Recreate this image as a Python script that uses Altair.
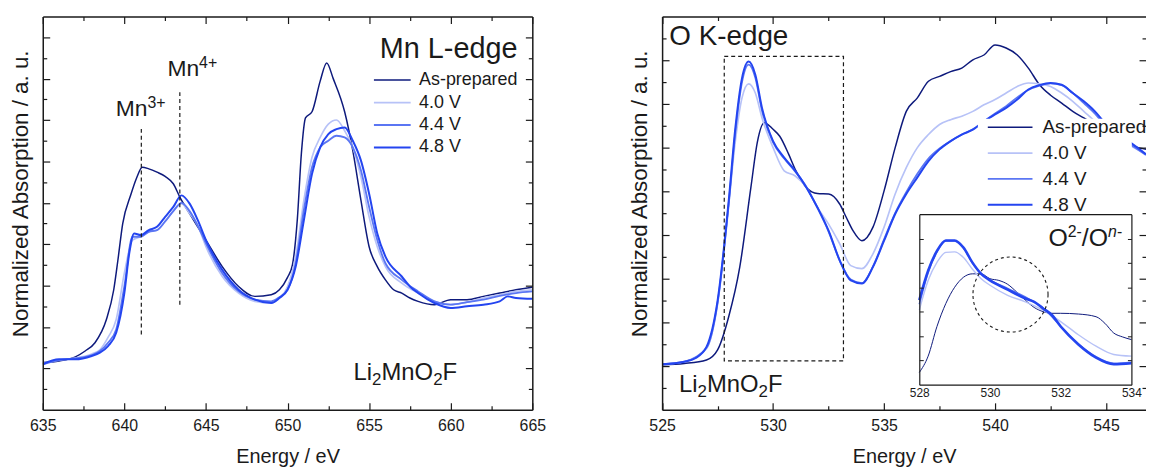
import altair as alt
import pandas as pd

FONT = "Liberation Sans"
INK = "#1a1a1a"
SERIES = ["As-prepared", "4.0 V", "4.4 V", "4.8 V"]
COLORS = ["#0e1a7c", "#b7c2f7", "#5b76f3", "#2445f0"]
WIDTHS = [1.5, 2.0, 2.0, 4.0]
INSET_WIDTHS = [1.0, 1.4, 1.6, 2.6]

# ---------------- Mn L-edge (energy eV, absorption a.u.) ----------------
MN_ASP = [(635.0, 1.14), (636.0, 1.18), (637.0, 1.28), (637.6, 1.42), (638.2, 1.62), (638.9, 2.18),
          (639.35, 2.9), (639.6, 3.6), (639.9, 4.5), (640.4, 5.2), (640.75, 5.6), (641.1, 5.86),
          (641.5, 5.82), (642.0, 5.74), (642.5, 5.64), (643.0, 5.46), (643.4, 5.14), (644.0, 4.74),
          (645.0, 4.1), (646.0, 3.46), (647.0, 2.98), (648.0, 2.74), (649.0, 2.78), (649.5, 2.9),
          (650.0, 3.2), (650.3, 3.5), (650.6, 4.6), (650.85, 6.2), (651.1, 7.05), (651.5, 7.2),
          (652.0, 7.94), (652.4, 8.38), (652.8, 8.0), (653.5, 7.2), (654.0, 6.26), (654.5, 5.06),
          (655.0, 3.94), (655.5, 3.46), (656.0, 3.14), (656.5, 2.9), (657.0, 2.82), (657.5, 2.7),
          (658.0, 2.62), (659.0, 2.54), (660.0, 2.66), (661.0, 2.66), (662.0, 2.74), (663.0, 2.82),
          (664.0, 2.9), (665.0, 2.96)]
MN_40 = [(635.0, 1.12), (636.0, 1.2), (637.0, 1.25), (638.0, 1.35), (638.5, 1.45), (639.0, 1.75),
         (639.5, 2.18), (640.0, 3.3), (640.5, 4.1), (641.0, 4.18), (641.5, 4.3), (642.0, 4.34),
         (642.5, 4.55), (643.0, 4.8), (643.5, 4.98), (644.0, 4.74), (644.5, 4.45), (645.0, 3.94),
         (646.0, 3.22), (647.0, 2.82), (648.0, 2.62), (649.0, 2.58), (649.5, 2.7), (650.0, 2.98),
         (650.5, 3.7), (651.0, 5.06), (651.5, 6.1), (652.0, 6.58), (652.5, 6.9), (653.0, 7.0),
         (653.5, 6.74), (654.0, 6.34), (654.5, 5.62), (655.0, 4.66), (655.5, 3.94), (656.0, 3.46),
         (657.0, 3.06), (658.0, 2.82), (659.0, 2.62), (660.0, 2.54), (661.0, 2.6), (662.0, 2.7),
         (663.0, 2.78), (664.0, 2.86), (665.0, 2.9)]
MN_44 = [(635.0, 1.1), (636.0, 1.2), (637.0, 1.24), (638.0, 1.32), (638.5, 1.42), (639.0, 1.62),
         (639.5, 1.94), (640.0, 2.98), (640.5, 4.18), (641.0, 4.18), (641.5, 4.3), (642.0, 4.34),
         (642.5, 4.55), (643.0, 4.8), (643.5, 5.0), (644.0, 4.8), (644.5, 4.45), (645.0, 4.02),
         (646.0, 3.3), (647.0, 2.86), (648.0, 2.66), (649.0, 2.62), (649.5, 2.72), (650.0, 2.9),
         (650.5, 3.54), (651.0, 4.82), (651.5, 5.86), (652.0, 6.34), (652.5, 6.5), (653.0, 6.62),
         (653.5, 6.58), (654.0, 6.34), (654.5, 5.78), (655.0, 4.9), (655.5, 4.1), (656.0, 3.54),
         (657.0, 3.14), (658.0, 2.86), (659.0, 2.62), (660.0, 2.54), (661.0, 2.6), (662.0, 2.66),
         (663.0, 2.75), (664.0, 2.82), (665.0, 2.86)]
MN_48 = [(635.0, 1.1), (636.0, 1.22), (637.0, 1.22), (638.0, 1.3), (638.5, 1.38), (639.0, 1.54),
         (639.5, 1.86), (640.0, 2.82), (640.3, 3.78), (640.6, 4.26), (641.0, 4.22), (641.5, 4.34),
         (642.0, 4.42), (642.5, 4.66), (643.0, 4.9), (643.5, 5.18), (644.0, 4.98), (644.5, 4.58),
         (645.0, 4.1), (646.0, 3.38), (647.0, 2.9), (648.0, 2.66), (649.0, 2.58), (649.5, 2.7),
         (650.0, 2.9), (650.5, 3.46), (651.0, 4.58), (651.5, 5.7), (652.0, 6.34), (652.5, 6.66),
         (653.0, 6.78), (653.5, 6.82), (654.0, 6.5), (654.5, 6.02), (655.0, 5.22), (655.5, 4.26),
         (656.0, 3.7), (657.0, 3.22), (657.5, 2.98), (658.0, 2.82), (659.0, 2.58), (660.0, 2.46),
         (661.0, 2.5), (662.0, 2.54), (663.0, 2.62), (663.5, 2.74), (664.0, 2.7), (665.0, 2.68)]

# ---------------- O K-edge ----------------
O_ASP = [(525.0, 1.03), (526.0, 1.06), (527.0, 1.14), (527.5, 1.37), (528.0, 2.13), (528.5, 3.27),
         (529.0, 5.09), (529.3, 6.15), (529.6, 6.57), (530.0, 6.42), (530.3, 6.26), (530.7, 5.85),
         (531.0, 5.5), (531.5, 5.09), (532.0, 4.95), (532.5, 4.94), (533.0, 4.71), (533.3, 4.4),
         (533.6, 4.1), (534.0, 3.87), (534.5, 4.18), (535.0, 5.01), (535.5, 6.0), (536.0, 6.83),
         (536.5, 7.14), (537.0, 7.52), (537.5, 7.63), (538.0, 7.74), (538.5, 7.82), (539.0, 8.01),
         (539.5, 8.12), (540.0, 8.35), (540.5, 8.28), (541.0, 8.12), (541.5, 7.82), (542.0, 7.44),
         (542.5, 7.2), (543.0, 7.02), (543.5, 6.83), (544.0, 6.68), (544.5, 6.53), (545.0, 6.34),
         (546.0, 6.07), (546.8, 5.96)]
O_40 = [(525.0, 1.04), (526.0, 1.1), (527.0, 1.4), (527.5, 2.43), (528.0, 4.7), (528.3, 6.15),
        (528.6, 7.14), (528.9, 7.46), (529.2, 7.25), (529.5, 6.68), (530.0, 6.0), (530.5, 5.47),
        (531.0, 5.35), (531.5, 5.09), (532.0, 4.63), (532.5, 4.25), (533.0, 3.8), (533.5, 3.3),
        (534.0, 3.23), (534.5, 3.57), (535.0, 4.18), (535.5, 4.94), (536.0, 5.54), (536.5, 6.0),
        (537.0, 6.3), (537.5, 6.53), (538.0, 6.64), (538.5, 6.72), (539.0, 6.83), (539.5, 6.98),
        (540.0, 7.1), (540.5, 7.25), (541.0, 7.4), (541.5, 7.48), (542.0, 7.46), (542.5, 7.4),
        (543.0, 7.25), (543.5, 7.06), (544.0, 6.83), (544.5, 6.6), (545.0, 6.34), (546.0, 6.07),
        (546.8, 5.85)]
O_44 = [(525.0, 1.04), (526.0, 1.1), (527.0, 1.42), (527.5, 2.45), (528.0, 4.7), (528.3, 6.35),
        (528.6, 7.5), (528.9, 7.9), (529.2, 7.6), (529.5, 6.85), (530.0, 6.12), (530.5, 5.75),
        (531.0, 5.45), (531.5, 5.1), (532.0, 4.62), (532.5, 4.08), (533.0, 3.42), (533.5, 2.98),
        (534.0, 2.9), (534.5, 3.28), (535.0, 3.9), (535.5, 4.5), (536.0, 4.98), (536.5, 5.4),
        (537.0, 5.75), (537.5, 5.98), (538.0, 6.15), (538.5, 6.3), (539.0, 6.42), (539.5, 6.6),
        (540.0, 6.78), (540.5, 6.95), (541.0, 7.15), (541.5, 7.32), (542.0, 7.42), (542.5, 7.47),
        (543.0, 7.43), (543.5, 7.25), (544.0, 7.02), (544.5, 6.78), (545.0, 6.48), (545.5, 6.25),
        (546.0, 6.1), (546.8, 5.83)]
O_48 = [(525.0, 1.04), (526.0, 1.1), (526.5, 1.18), (527.0, 1.44), (527.5, 2.5), (528.0, 4.78),
        (528.3, 6.45), (528.6, 7.59), (528.9, 7.97), (529.2, 7.67), (529.5, 6.91), (530.0, 6.15),
        (530.5, 5.77), (531.0, 5.47), (531.5, 5.09), (532.0, 4.63), (532.5, 4.1), (533.0, 3.42),
        (533.5, 2.96), (534.0, 2.89), (534.5, 3.27), (535.0, 3.87), (535.5, 4.48), (536.0, 4.94),
        (536.5, 5.32), (537.0, 5.69), (537.5, 5.96), (538.0, 6.15), (538.5, 6.3), (539.0, 6.41),
        (539.5, 6.6), (540.0, 6.76), (540.5, 6.91), (541.0, 7.1), (541.5, 7.33), (542.0, 7.43),
        (542.5, 7.48), (543.0, 7.44), (543.5, 7.25), (544.0, 7.06), (544.5, 6.83), (545.0, 6.53),
        (545.5, 6.3), (546.0, 6.15), (546.8, 5.85)]

# ---------------- inset (O2-/On-) ----------------
IN_ASP = [(528.0, 0.5), (528.25, 1.17), (528.5, 2.39), (528.75, 3.33), (529.0, 4.0), (529.25, 4.41),
          (529.5, 4.55), (529.75, 4.55), (530.0, 4.35), (530.25, 4.28), (530.5, 4.12), (530.75, 3.81),
          (531.0, 3.47), (531.25, 3.17), (531.5, 3.0), (531.75, 2.93), (532.0, 2.93), (532.5, 2.9),
          (533.0, 2.79), (533.25, 2.52), (533.5, 2.12), (533.75, 1.96), (534.0, 1.85)]
IN_40 = [(528.0, 3.06), (528.25, 4.28), (528.5, 5.02), (528.75, 5.43), (529.0, 5.45), (529.25, 5.22),
         (529.5, 4.75), (529.75, 4.35), (530.0, 4.08), (530.5, 3.67), (531.0, 3.4), (531.5, 3.06),
         (532.0, 2.59), (532.5, 2.05), (533.0, 1.58), (533.5, 1.24), (534.0, 1.17)]
IN_44 = [(528.0, 3.3), (528.25, 4.6), (528.5, 5.45), (528.75, 5.9), (529.0, 5.9), (529.25, 5.6),
         (529.5, 5.0), (529.75, 4.55), (530.0, 4.3), (530.5, 3.95), (531.0, 3.6), (531.5, 3.15),
         (532.0, 2.4), (532.5, 1.68), (533.0, 1.15), (533.5, 0.88), (534.0, 0.92)]
IN_48 = [(528.0, 3.47), (528.25, 4.68), (528.5, 5.49), (528.75, 5.92), (529.0, 5.92), (529.25, 5.63),
         (529.5, 5.02), (529.75, 4.55), (530.0, 4.28), (530.5, 3.9), (531.0, 3.54), (531.25, 3.4),
         (531.5, 3.13), (531.75, 2.86), (532.0, 2.39), (532.5, 1.65), (533.0, 1.11), (533.5, 0.84),
         (534.0, 0.88)]

# axis ticks
MN_X_MAJOR = [635, 640, 645, 650, 655, 660, 665]
MN_X_MINOR = [637.5, 642.5, 647.5, 652.5, 657.5, 662.5]
MN_Y_MAJOR = [1, 2, 3, 4, 5, 6, 7, 8, 9]
MN_Y_MINOR = [0.5, 1.5, 2.5, 3.5, 4.5, 5.5, 6.5, 7.5, 8.5]
O_X_MAJOR = [525, 530, 535, 540, 545]
O_X_MINOR = [527.5, 532.5, 537.5, 542.5]
O_Y_MAJOR = [1, 2, 3, 4, 5, 6, 7, 8]
O_Y_MINOR = [0.5, 1.5, 2.5, 3.5, 4.5, 5.5, 6.5, 7.5, 8.5]
IN_X_LABELS = [528, 530, 532, 534]
IN_Y_TICKS = [1, 2, 3, 4, 5, 6]

# annotations (data coordinates)
MN_MARKERS = [(641.04, 1.82, 6.82), (643.4, 2.54, 7.74)]
O_BOX = [(527.8, 533.17, 1.12, 8.09)]
IN_CIRCLE = [(530.58, 3.7)]


def to_df(pairs_by_series):
    rows = []
    for name, pairs in pairs_by_series:
        for e, v in pairs:
            rows.append({"series": name, "E": e, "v": v})
    return pd.DataFrame(rows)


mn_df = to_df(zip(SERIES, [MN_ASP, MN_40, MN_44, MN_48]))
o_df = to_df(zip(SERIES, [O_ASP, O_40, O_44, O_48]))

# one drawing area holding both panels and the inset (pixel ranges per panel)
W = 1111
H = 396
L0, L1 = 0, 493          # left panel x-range
R0, R1 = 623.7, 1111     # right panel x-range
IN_L, IN_R, IN_T, IN_B = R0 + 259, R0 + 472.6, 199, 370.7
YTITLE_CENTER = 178

mn_xs = alt.Scale(domain=[635, 665], range=[L0, L1], zero=False, nice=False)
mn_ys = alt.Scale(domain=[0, 9.5], range=[H, 0], zero=False, nice=False)
o_xs = alt.Scale(domain=[525, 546.8], range=[R0, R1], zero=False, nice=False)
o_ys = alt.Scale(domain=[0, 9], range=[H, 0], zero=False, nice=False)
in_xs = alt.Scale(domain=[528, 534], range=[IN_L, IN_R], zero=False, nice=False)
in_ys = alt.Scale(domain=[0, 7], range=[IN_B, IN_T], zero=False, nice=False)


def tick_axis(orient, offset, values, size, width=1.2):
    return alt.Axis(orient=orient, offset=offset, values=values, tickSize=size, ticks=True,
                    domain=False, labels=False, title=None, grid=False, zindex=1,
                    tickColor=INK, tickWidth=width)


def domain_axis(orient, offset, width=1.5):
    return alt.Axis(orient=orient, offset=offset, ticks=False, labels=False, title=None,
                    domain=True, domainColor=INK, domainWidth=width, grid=False, zindex=1)


def frame_layers(df, xs, ys, x0, x1, xmaj, xmin, ymaj, ymin, right_domain, ytitle_pad):
    base = alt.Chart(df).mark_point(opacity=0)

    def X(axis):
        return base.encode(x=alt.X("E:Q", scale=xs, axis=axis))

    def Y(axis):
        return base.encode(y=alt.Y("v:Q", scale=ys, axis=axis))

    layers = [
        X(alt.Axis(orient="bottom", offset=0, values=xmaj, format="d", ticks=False, domain=True,
                   domainColor=INK, domainWidth=1.5, grid=False, zindex=1, labelFlush=False,
                   labelFont=FONT, labelFontSize=16, labelColor=INK, labelPadding=8,
                   title="Energy / eV", titleFont=FONT, titleFontSize=20,
                   titleFontWeight="normal", titleColor=INK, titlePadding=13)),
        X(domain_axis("bottom", -H)),
        Y(alt.Axis(orient="left", offset=-x0, ticks=False, labels=False, domain=True,
                   domainColor=INK, domainWidth=1.5, grid=False, zindex=1,
                   title="Normalized Absorption / a. u.", titleFont=FONT, titleFontSize=22.5,
                   titleFontWeight="normal", titleColor=INK, titlePadding=ytitle_pad,
                   titleY=YTITLE_CENTER)),
    ]
    if right_domain:
        layers.append(Y(domain_axis("left", -x1)))
    for vals, size in ((xmaj, 7), (xmin, 4)):
        layers.append(X(tick_axis("top", -H, vals, size)))
        layers.append(X(tick_axis("bottom", -H, vals, size)))
    for vals, size in ((ymaj, 7), (ymin, 4)):
        layers.append(Y(tick_axis("right", x0 - W, vals, size)))
        layers.append(Y(tick_axis("left", -x1, vals, size)))
    return layers


# Arial / Liberation Sans advance widths (em) for composing sub/superscript labels
CHAR_W = {"L": 0.556, "i": 0.222, "M": 0.833, "n": 0.556, "O": 0.778, "F": 0.611,
          "2": 0.556, "3": 0.556, "4": 0.556, "+": 0.584, "-": 0.333, "/": 0.278,
          "K": 0.667, "e": 0.556, "d": 0.556, "g": 0.556, " ": 0.278}


def text_layer(txt, x, y, size, style="normal"):
    return alt.Chart(alt.Data(values=[{}])).mark_text(
        font=FONT, fontSize=size, color=INK, align="left", baseline="alphabetic", fontStyle=style
    ).encode(x=alt.value(x), y=alt.value(y), text=alt.value(txt))


def rich_text(pieces, x, y, anchor="start"):
    """pieces: (text, size, dy, style) ; returns text layers laid out left to right."""
    total = sum(sum(CHAR_W.get(c, 0.556) for c in t) * s for t, s, _, _ in pieces)
    cur = x - total if anchor == "end" else x
    out = []
    for t, s, dy, st in pieces:
        out.append(text_layer(t, cur, y + dy, s, st))
        cur += sum(CHAR_W.get(c, 0.556) for c in t) * s
    return out


def formula(x, y):
    return rich_text([("Li", 24, 0, "normal"), ("2", 17, 5, "normal"), ("MnO", 24, 0, "normal"),
                      ("2", 17, 5, "normal"), ("F", 24, 0, "normal")], x, y)


# ---------------- left panel ----------------
mn_legend = alt.Legend(orient="none", legendX=L0 + 330, legendY=19, direction="vertical",
                       title="Mn L-edge", titleFont=FONT, titleFontSize=29, titleFontWeight="normal",
                       titleColor=INK, titlePadding=7, titleLimit=400, titleAnchor="end",
                       symbolType="M-1,0H5.727", symbolSize=121,
                       labelFont=FONT, labelFontSize=18, labelColor=INK, labelOffset=31,
                       labelLimit=300, rowPadding=4.6, padding=0)

mn_lines = alt.Chart(mn_df).mark_line(interpolate="monotone", clip=True).encode(
    x=alt.X("E:Q", scale=mn_xs, axis=None),
    y=alt.Y("v:Q", scale=mn_ys, axis=None),
    color=alt.Color("series:N", scale=alt.Scale(domain=SERIES, range=COLORS), legend=mn_legend),
    strokeWidth=alt.StrokeWidth("series:N", scale=alt.Scale(domain=SERIES, range=WIDTHS),
                                legend=mn_legend),
)

mk_df = pd.DataFrame([{"E": e, "v1": a, "v2": b} for e, a, b in MN_MARKERS])
mn_markers = alt.Chart(mk_df).mark_rule(color=INK, strokeWidth=1.2, strokeDash=[4, 3]).encode(
    x=alt.X("E:Q", scale=mn_xs, axis=None),
    y=alt.Y("v1:Q", scale=mn_ys, axis=None),
    y2="v2:Q",
)

left_layers = [
    mn_lines, mn_markers,
    *frame_layers(mn_df, mn_xs, mn_ys, L0, L1, MN_X_MAJOR, MN_X_MINOR, MN_Y_MAJOR, MN_Y_MINOR,
                  True, 10.5),
    *rich_text([("Mn", 23, 0, "normal"), ("3+", 16, -8, "normal")], L0 + 73.5, 100),
    *rich_text([("Mn", 23, 0, "normal"), ("4+", 16, -8, "normal")], L0 + 125.5, 60),
    *formula(L0 + 313, 366),
]

# ---------------- right panel ----------------
o_legend = alt.Legend(orient="none", legendX=R0 + 319, legendY=97, direction="vertical",
                      title=None, symbolType="M-1,0H7.18", symbolSize=121,
                      padding=5, labelFont=FONT, labelFontSize=19, labelColor=INK, labelOffset=40,
                      labelLimit=300, rowPadding=6)

o_lines = alt.Chart(o_df).mark_line(interpolate="monotone", clip=True).encode(
    x=alt.X("E:Q", scale=o_xs, axis=None),
    y=alt.Y("v:Q", scale=o_ys, axis=None),
    color=alt.Color("series:N", scale=alt.Scale(domain=SERIES, range=COLORS), legend=o_legend),
    strokeWidth=alt.StrokeWidth("series:N", scale=alt.Scale(domain=SERIES, range=WIDTHS),
                                legend=o_legend),
)

# white panel behind the legend entries
legend_bg = alt.Chart(alt.Data(values=[{}])).mark_rect(fill="white").encode(
    x=alt.value(R0 + 318), x2=alt.value(R0 + 473), y=alt.value(103), y2=alt.value(197))

box_df = pd.DataFrame([{"e1": a, "e2": b, "v1": c, "v2": d} for a, b, c, d in O_BOX])
o_box = alt.Chart(box_df).mark_rect(fill="transparent", stroke=INK, strokeWidth=1.2,
                                    strokeDash=[4, 3]).encode(
    x=alt.X("e1:Q", scale=o_xs, axis=None), x2="e2:Q",
    y=alt.Y("v1:Q", scale=o_ys, axis=None), y2="v2:Q",
)

right_layers = [
    o_lines, legend_bg, o_box,
    *frame_layers(o_df, o_xs, o_ys, R0, R1, O_X_MAJOR, O_X_MINOR, O_Y_MAJOR, O_Y_MINOR,
                  False, 10.5),
    text_layer("O K-edge", R0 + 7.3, 28.3, 28),
    *formula(R0 + 17, 378),
]

# ---------------- inset ----------------
bg_df = pd.DataFrame([{"e1": 528, "e2": 534, "v1": 0, "v2": 7}])
in_layers = [alt.Chart(bg_df).mark_rect(fill="white").encode(
    x=alt.X("e1:Q", scale=in_xs, axis=None), x2="e2:Q",
    y=alt.Y("v1:Q", scale=in_ys, axis=None), y2="v2:Q",
)]
for name, pairs, col, w in zip(SERIES, [IN_ASP, IN_40, IN_44, IN_48], COLORS, INSET_WIDTHS):
    d = pd.DataFrame([{"E": e, "v": v} for e, v in pairs])
    in_layers.append(alt.Chart(d).mark_line(interpolate="monotone", color=col, strokeWidth=w).encode(
        x=alt.X("E:Q", scale=in_xs, axis=None),
        y=alt.Y("v:Q", scale=in_ys, axis=None),
    ))

circ_df = pd.DataFrame([{"E": e, "v": v} for e, v in IN_CIRCLE])
in_layers.append(alt.Chart(circ_df).mark_point(shape="circle", filled=False, size=5715,
                                               color=INK, strokeWidth=1.1, opacity=1,
                                               strokeDash=[3, 3]).encode(
    x=alt.X("E:Q", scale=in_xs, axis=None),
    y=alt.Y("v:Q", scale=in_ys, axis=None),
))

in_base = alt.Chart(bg_df).mark_point(opacity=0)
in_layers += [
    in_base.encode(x=alt.X("e1:Q", scale=in_xs, axis=alt.Axis(
        orient="bottom", offset=IN_B - H, values=IN_X_LABELS, format="d", ticks=False,
        domain=True, domainColor=INK, domainWidth=1.2, grid=False, zindex=1, title=None,
        labelFlush=False, labelFont=FONT, labelFontSize=12, labelColor=INK, labelPadding=3))),
    in_base.encode(x=alt.X("e1:Q", scale=in_xs, axis=domain_axis("bottom", IN_T - H, 1.2))),
    in_base.encode(y=alt.Y("v1:Q", scale=in_ys, axis=alt.Axis(
        orient="right", offset=IN_L - W, values=IN_Y_TICKS, tickSize=4, tickColor=INK,
        tickWidth=1, labels=False, title=None, domain=True, domainColor=INK,
        domainWidth=1.2, grid=False, zindex=1))),
    in_base.encode(y=alt.Y("v1:Q", scale=in_ys, axis=alt.Axis(
        orient="left", offset=-IN_R, values=IN_Y_TICKS, tickSize=4, tickColor=INK,
        tickWidth=1, labels=False, title=None, domain=True, domainColor=INK,
        domainWidth=1.2, grid=False, zindex=1))),
    *rich_text([("O", 25, 0, "normal"), ("2-", 16, -9, "normal"), ("/O", 25, 0, "normal"),
                ("n", 16, -9, "italic"), ("-", 16, -9, "normal")], IN_R - 9.3, 231, anchor="end"),
]

chart = alt.layer(*left_layers, *right_layers, *in_layers).resolve_scale(
    x="independent", y="independent", color="independent", strokeWidth="independent"
).resolve_axis(
    x="independent", y="independent"
).resolve_legend(
    color="independent", strokeWidth="independent"
).properties(
    width=W, height=H,
    autosize=alt.AutoSizeParams(type="none"),
    padding={"left": 35, "top": 7, "right": 0, "bottom": 56}, background="white"
).configure_view(stroke="transparent")

chart.save("out.html", embed_options={"renderer": "svg", "actions": False})
